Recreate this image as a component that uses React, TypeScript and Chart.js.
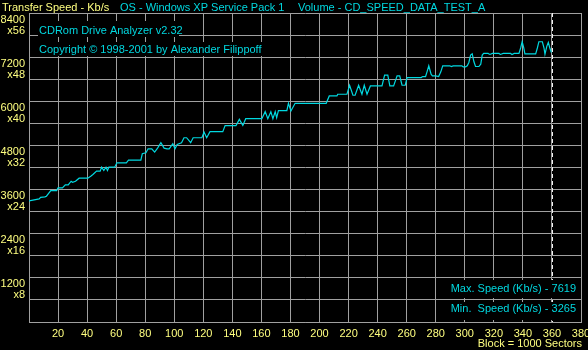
import React, { useEffect, useRef } from 'react';
import { Chart, registerables } from 'chart.js';

Chart.register(...registerables);

// ---- data ----
const blocks = [
  0, 7, 8, 11, 12, 15, 19, 20, 23, 25, 27, 29, 30, 32, 34.5, 40.5, 42.5, 44, 46.5, 49,
  50, 51.5, 53, 54, 55, 59, 60.5, 67, 68.5, 77, 78, 80.5, 82, 84.5, 86.5, 88.5, 90.8, 93, 95, 96.5,
  99, 100.5, 102, 105, 106.7, 108.5, 111.3, 113, 119, 120.5, 122.3, 124.6, 133.4, 135, 142.5, 144.8, 147.2, 149.2, 160.3, 162.6,
  164.4, 166.5, 167.9, 169.5, 170.5, 171.7, 177.5, 178.6, 180.3, 183.2, 204.6, 206.7, 212, 212.5, 218.9, 220.7, 223, 224.5, 226.9, 229.2,
  230.8, 232.7, 235, 243, 244.8, 247, 248.4, 251, 253.4, 255.2, 256.8, 259, 260.3, 270, 271, 273, 274, 275.2, 276.8, 277.7,
  280, 282, 283.5, 284.8, 289.7, 290.7, 292, 298, 298.9, 300.5, 301.7, 302.8, 304, 305.1, 306.3, 307.4, 309.7, 311, 312, 313,
  316, 317.3, 319, 323.5, 324.5, 326.5, 331.5, 332.5, 334, 337.3, 338.5, 339.5, 340.6, 341.4, 348.8, 350, 351, 353.4, 354.5, 355.2,
  356.5, 357.5, 358.5, 359.6,
];
const speeds = [
  3290, 3346, 3390, 3401, 3420, 3573, 3573, 3646, 3646, 3728, 3728, 3827, 3800, 3827, 3910, 3910, 3965, 4009, 4100, 4100,
  4209, 4118, 4209, 4118, 4209, 4209, 4327, 4327, 4400, 4400, 4573, 4600, 4709, 4709, 4618, 4727, 4873, 4727, 4709, 4709,
  4846, 4709, 4827, 4873, 5009, 5009, 4873, 5009, 5009, 5164, 5009, 5173, 5173, 5340, 5340, 5509, 5345, 5527, 5527, 5718,
  5527, 5718, 5527, 5718, 5555, 5745, 5745, 5945, 5736, 5945, 5945, 6145, 6145, 6191, 6191, 6436, 6164, 6164, 6436, 6191,
  6436, 6191, 6418, 6418, 6709, 6709, 6418, 6418, 6691, 6691, 6436, 6436, 6645, 6645, 6673, 6673, 6800, 6964, 6736, 6691,
  6691, 6673, 6800, 6964, 6964, 6945, 6964, 6964, 6936, 6936, 6964, 7055, 7255, 7291, 7073, 6945, 6945, 7009, 7255, 7300,
  7300, 7273, 7300, 7300, 7273, 7300, 7300, 7273, 7300, 7300, 7455, 7619, 7455, 7291, 7291, 7455, 7619, 7619, 7455, 7282,
  7500, 7600, 7455, 7327,
];

const yLabelValues = [1200, 2400, 3600, 4800, 6000, 7200, 8400];
const yLabels = ['1200', '2400', '3600', '4800', '6000', '7200', '8400'];
const yMultLabels = ['x8', 'x16', 'x24', 'x32', 'x40', 'x48', 'x56'];
const xLabelValues = [20, 40, 60, 80, 100, 120, 140, 160, 180, 200, 220, 240, 260, 280, 300, 320, 340, 360, 380];

const titleSpeed = 'Transfer Speed - Kb/s';
const titleOS = 'OS - Windows XP Service Pack 1';
const titleVolume = 'Volume - CD_SPEED_DATA_TEST_A';
const appName = 'CDRom Drive Analyzer v2.32';
const copyright = 'Copyright \u00A9 1998-2001 by Alexander Filippoff';
const maxSpeedText = 'Max. Speed (Kb/s) - 7619';
const minSpeedText = 'Min.  Speed (Kb/s) - 3265';
const blockText = 'Block = 1000 Sectors';
const endBlock = 360;

const YELLOW = '#ffff80';
const CYAN = '#00d8e0';
const GRID = '#a0a0a0';
const FONT = '11px "Liberation Sans", Arial, sans-serif';

const overlayPlugin = {
  id: 'cdOverlay',
  beforeDraw(chart: any) {
    const ctx = chart.ctx;
    ctx.save();
    ctx.fillStyle = '#000';
    ctx.fillRect(0, 0, chart.width, chart.height);
    ctx.restore();
  },
  afterDatasetsDraw(chart: any) {
    const ctx = chart.ctx;
    const xs = chart.scales.x;
    const ys = chart.scales.y;
    const area = chart.chartArea;
    ctx.save();
    // dashed end marker
    const ex = Math.round(xs.getPixelForValue(endBlock)) + 0.5;
    ctx.strokeStyle = '#f0f0f0';
    ctx.lineWidth = 1;
    ctx.setLineDash([4, 3]);
    ctx.beginPath();
    ctx.moveTo(ex, area.top);
    ctx.lineTo(ex, area.bottom);
    ctx.stroke();
    ctx.setLineDash([]);

    ctx.font = FONT;
    ctx.textBaseline = 'alphabetic';

    // header
    ctx.textAlign = 'left';
    ctx.fillStyle = YELLOW;
    ctx.fillText(titleSpeed, 2, 11);
    ctx.fillStyle = CYAN;
    ctx.fillText(titleOS, 120, 11);
    ctx.fillText(titleVolume, 298, 11);

    // top-left info boxes
    ctx.fillStyle = '#000';
    ctx.fillRect(38, 21, 141, 16);
    ctx.fillRect(38, 42, 226, 14);
    ctx.fillStyle = CYAN;
    ctx.fillText(appName, 39, 34);
    ctx.fillText(copyright, 39, 53);

    // bottom-right boxes
    ctx.fillStyle = '#000';
    ctx.fillRect(450, 280, 129, 18);
    ctx.fillRect(450, 302, 129, 18);
    ctx.fillStyle = CYAN;
    ctx.textAlign = 'right';
    ctx.fillText(maxSpeedText, 576, 292);
    ctx.fillText(minSpeedText, 576, 312);

    // y labels
    ctx.fillStyle = YELLOW;
    yLabelValues.forEach((v, i) => {
      const gy = ys.getPixelForValue(v);
      ctx.fillText(yLabels[i], 25, gy + 9.5);
      ctx.fillText(yMultLabels[i], 25, gy + 20.5);
    });

    // x labels
    ctx.textAlign = 'center';
    xLabelValues.forEach((v) => {
      ctx.fillText(String(v), xs.getPixelForValue(v), 337);
    });
    ctx.textAlign = 'right';
    ctx.fillText(blockText, 582, 347);
    ctx.restore();
  },
};

export default function App() {
  const ref = useRef<HTMLCanvasElement | null>(null);
  useEffect(() => {
    document.body.style.margin = '0';
    document.body.style.background = '#000';
    const canvas = ref.current;
    if (!canvas) return;
    const chart = new Chart(canvas, {
      type: 'line',
      data: {
        datasets: [
          {
            data: blocks.map((b, i) => ({ x: b, y: speeds[i] })),
            borderColor: CYAN,
            borderWidth: 1.2,
            pointRadius: 0,
            tension: 0,
            fill: false,
          },
        ],
      },
      options: {
        responsive: false,
        animation: false,
        devicePixelRatio: 1,
        layout: { padding: { left: 29, right: 7, top: 13, bottom: 28 } },
        plugins: { legend: { display: false }, tooltip: { enabled: false } },
        scales: {
          x: {
            type: 'linear',
            min: 0,
            max: 380,
            ticks: { display: false, stepSize: 20 },
            grid: { color: GRID, drawTicks: false, lineWidth: 1 },
            border: { color: GRID },
          },
          y: {
            type: 'linear',
            min: 0,
            max: 8400,
            ticks: { display: false, stepSize: 600 },
            grid: { color: GRID, drawTicks: false, lineWidth: 1 },
            border: { color: GRID },
          },
        },
      },
      plugins: [overlayPlugin],
    });
    return () => chart.destroy();
  }, []);
  return <canvas ref={ref} width={588} height={350} style={{ display: 'block' }} />;
}
